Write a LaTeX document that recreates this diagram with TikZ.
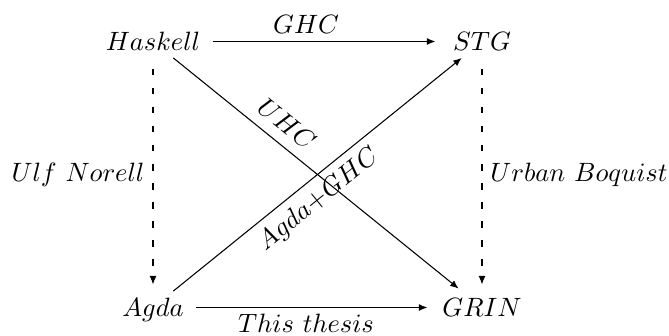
\documentclass[tikz,border=0pt]{standalone}
\usetikzlibrary{arrows.meta}
\begin{document}
\begin{tikzpicture}[x=0.3774pt,y=0.3774pt,
  obj/.style={inner xsep=4.5pt,inner ysep=2.6pt,text height=6.8pt,text depth=0pt,anchor=base},
  arr/.style={-{Latex[length=3.2pt,width=2.6pt]}},
  dsh/.style={arr,dash pattern=on 2.5pt off 4.7pt},
  lbl/.style={inner sep=3pt}]
\useasboundingbox (0,0) rectangle (669,335);
\node[obj] (H) at (153,284.5) {$Haskell$};
\node[obj] (S) at (482,284.5) {$STG$};
\node[obj] (A) at (153,18.5) {$Agda$};
\node[obj] (G) at (482,18.5) {$GRIN$};
\draw[arr,shorten >=2pt] (H) -- node[pos=0.41,above,lbl]{$GHC$} (S);
\draw[arr,shorten >=1pt] (A) -- node[pos=0.47,below,lbl,inner sep=2.3pt]{$This\ thesis$} (G);
\draw[dsh,shorten <=4pt,shorten >=2.5pt] (H) -- node[left,lbl]{$Ulf\ Norell$} (A);
\draw[dsh,shorten <=4pt,shorten >=2.5pt] (S) -- node[right,lbl]{$Urban\ Boquist$} (G);
\draw[arr,shorten >=1.5pt] (H) -- node[pos=0.35,above=1pt,sloped,lbl]{$UHC$} (G);
\draw[arr] (A) -- node[pos=0.46,below,sloped,lbl]{$Agda{+}GHC$} (S);
\end{tikzpicture}
\end{document}
